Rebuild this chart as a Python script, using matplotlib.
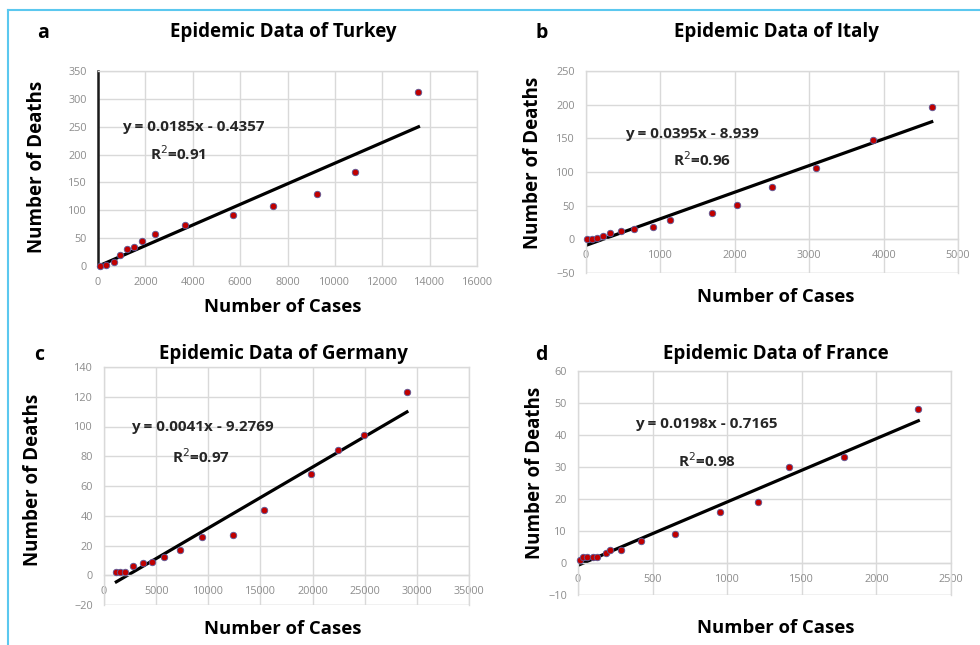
import matplotlib
matplotlib.use("Agg")
import matplotlib.pyplot as plt
from matplotlib.lines import Line2D
import numpy as np

# --- data ---
turkey_cases = [70, 325, 675, 942, 1224, 1519, 1857, 2405, 3671, 5682, 7384, 9226, 10830, 13530]
turkey_deaths = [0, 2, 7, 20, 30, 35, 44, 58, 74, 92, 108, 130, 168, 312]

italy_cases = [9, 76, 152, 228, 318, 465, 649, 894, 1131, 1700, 2030, 2496, 3095, 3860, 4647]
italy_deaths = [0, 1, 2, 5, 9, 12, 16, 19, 28, 39, 51, 77, 106, 148, 196]

germany_cases = [1182, 1566, 2013, 2780, 3739, 4634, 5785, 7318, 9428, 12336, 15340, 19850, 22400, 24900, 29050]
germany_deaths = [2, 2, 2, 6, 8, 9, 12, 17, 26, 27, 44, 68, 84, 94, 123]

france_cases = [12, 35, 60, 100, 130, 191, 212, 285, 423, 653, 949, 1209, 1412, 1784, 2281]
france_deaths = [1, 2, 2, 2, 2, 3, 4, 4, 7, 9, 16, 19, 30, 33, 48]

slopes = [0.0185, 0.0395, 0.0041, 0.0198]
intercepts = [-0.4357, -8.939, -9.2769, -0.7165]
eq_labels = ["y = 0.0185x - 0.4357", "y = 0.0395x - 8.939",
             "y = 0.0041x - 9.2769", "y = 0.0198x - 0.7165"]
r2_labels = ["R$^2$=0.91", "R$^2$=0.96", "R$^2$=0.97", "R$^2$=0.98"]
titles = ["Epidemic Data of Turkey", "Epidemic Data of Italy",
          "Epidemic Data of Germany", "Epidemic Data of France"]
letters = ["a", "b", "c", "d"]

plt.rcParams['font.family'] = ['Open Sans', 'DejaVu Sans']

W, H = 980, 645
fig = plt.figure(figsize=(9.8, 6.45), dpi=100, facecolor='white')


def px(x, y):
    return x / W, 1 - y / H


def box(x0, y0, x1, y1):
    return [x0 / W, 1 - y1 / H, (x1 - x0) / W, (y1 - y0) / H]


panels = [
    dict(cases=turkey_cases, deaths=turkey_deaths, rect=box(98, 71, 477, 266),
         xlim=(0, 16000), xstep=2000, ylim=(0, 350), ystep=50,
         eq_pos=(4040, 250), r2_pos=(3380, 201),
         title_px=(283, 32), letter_px=(43, 33), xl_px=(283, 307), yl_px=(37, 167)),
    dict(cases=italy_cases, deaths=italy_deaths, rect=box(586, 71, 958, 273),
         xlim=(0, 5000), xstep=1000, ylim=(-50, 250), ystep=50,
         eq_pos=(1422, 156), r2_pos=(1565, 118),
         title_px=(776, 32), letter_px=(542, 33), xl_px=(776, 297), yl_px=(533, 163)),
    dict(cases=germany_cases, deaths=germany_deaths, rect=box(104, 367, 469, 605),
         xlim=(0, 35000), xstep=5000, ylim=(-20, 140), ystep=20,
         eq_pos=(9428, 100), r2_pos=(9330, 80),
         title_px=(283, 354), letter_px=(39, 355), xl_px=(283, 629), yl_px=(33, 480)),
    dict(cases=france_cases, deaths=france_deaths, rect=box(578, 371, 951, 595),
         xlim=(0, 2500), xstep=500, ylim=(-10, 60), ystep=10,
         eq_pos=(862, 43.5), r2_pos=(866, 32),
         title_px=(776, 354), letter_px=(541, 355), xl_px=(776, 628), yl_px=(535, 473)),
]

grid_col = '#d9d9d9'
tick_col = '#8c8c8c'

for i, p in enumerate(panels):
    ax = fig.add_axes(p['rect'])
    ax.set_xlim(*p['xlim'])
    ax.set_ylim(*p['ylim'])
    ax.set_xticks(np.arange(p['xlim'][0], p['xlim'][1] + 1, p['xstep']))
    ax.set_yticks(np.arange(p['ylim'][0], p['ylim'][1] + 1, p['ystep']))
    ax.grid(True, color=grid_col, linewidth=1.0)
    ax.set_axisbelow(True)
    for s in ax.spines.values():
        s.set_color(grid_col)
        s.set_linewidth(1.0)
    if p['ylim'][0] < 0:
        ax.spines['bottom'].set_position(('data', 0))
        ax.axhline(p['ylim'][0], color=grid_col, linewidth=1.0, zorder=0)
    if i == 0:
        ax.spines['left'].set_color('#1a1a1a')
        ax.spines['left'].set_linewidth(1.8)
    ax.tick_params(length=0, labelsize=7.8, labelcolor=tick_col, pad=8)

    x = np.array(p['cases'], dtype=float)
    fit_x = np.array([x.min(), x.max()])
    ax.plot(fit_x, slopes[i] * fit_x + intercepts[i], color='black', linewidth=2.3, zorder=2)
    ax.scatter(p['cases'], p['deaths'], s=22, color='#c00000', edgecolors='#5a5a9a',
               linewidths=0.6, zorder=3, clip_on=False)

    ax.text(*p['eq_pos'], eq_labels[i], ha='center', va='center', fontsize=11,
            fontweight='bold', color='#262626')
    ax.text(*p['r2_pos'], r2_labels[i], ha='center', va='center', fontsize=11,
            fontweight='bold', color='#262626')

    fig.text(*px(*p['title_px']), titles[i], ha='center', va='center', fontsize=13.5,
             fontweight='bold')
    fig.text(*px(*p['letter_px']), letters[i], ha='center', va='center', fontsize=14,
             fontweight='bold')
    fig.text(*px(*p['xl_px']), "Number of Cases", ha='center', va='center', fontsize=13.3,
             fontweight='bold')
    fig.text(*px(*p['yl_px']), "Number of Deaths", ha='center', va='center', fontsize=13.5,
             fontweight='bold', rotation=90)

# light blue frame lines (top and left)
frame_col = '#5bc8ef'
fig.add_artist(Line2D([8 / W, 1.0], [1 - 10 / H, 1 - 10 / H], color=frame_col, linewidth=1.5))
fig.add_artist(Line2D([8 / W, 8 / W], [1 - 10 / H, 0.0], color=frame_col, linewidth=1.5))

fig.savefig("out.png", dpi=100, facecolor='white')
